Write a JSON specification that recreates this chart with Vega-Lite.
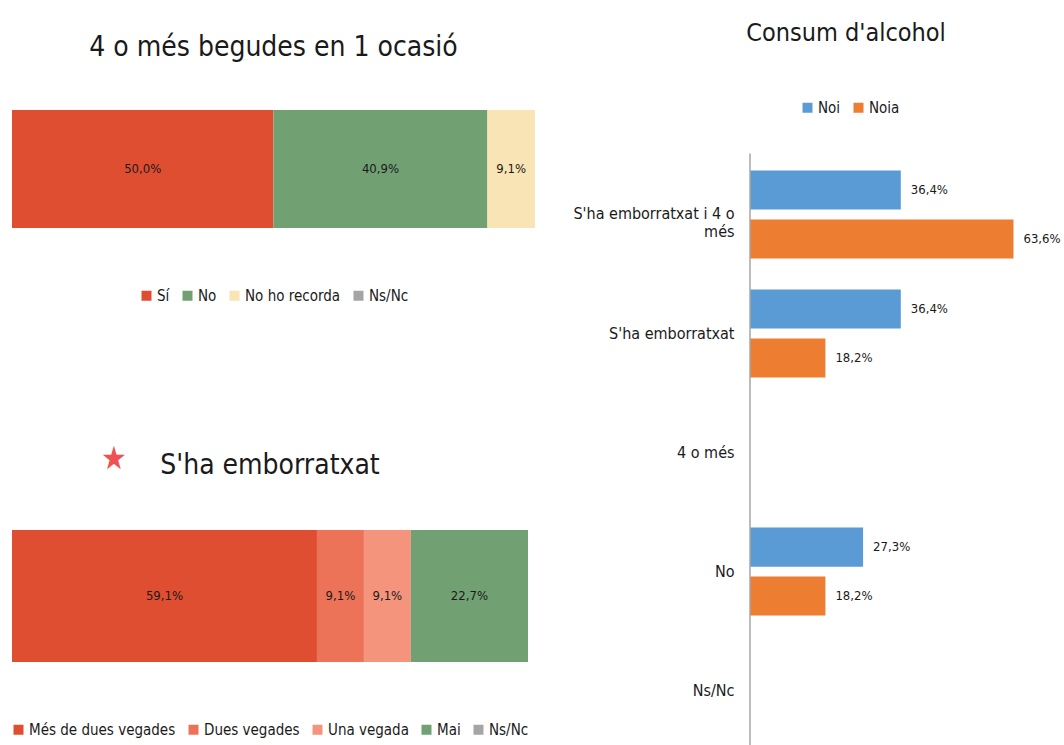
{
  "$schema": "https://vega.github.io/schema/vega-lite/v6.json",
  "padding": {"left": 11, "top": 21, "right": 0, "bottom": 0},
  "background": "white",
  "config": {
    "font": "DejaVu Sans Condensed, Liberation Sans, sans-serif",
    "view": {"stroke": null},
    "locale": {"number": {"decimal": ",", "thousands": ".", "grouping": [3], "currency": ["", " €"]}},
    "title": {"fontSize": 28, "fontWeight": "normal", "color": "#1a1a1a", "anchor": "middle"},
    "legend": {"symbolType": "square", "symbolSize": 100, "labelFontSize": 15, "labelColor": "#1a1a1a", "columnPadding": 10, "labelOffset": 3, "symbolStrokeWidth": 0,
      "layout": {"bottom": {"anchor": "middle"}, "top": {"anchor": "middle"}}}
  },
  "datasets": {
    "beg": [
      {"q": "4 o més", "resp": "Sí", "pct": 0.5},
      {"q": "4 o més", "resp": "No", "pct": 0.409},
      {"q": "4 o més", "resp": "No ho recorda", "pct": 0.091}
    ],
    "emb": [
      {"q": "S'ha emborratxat", "resp": "Més de dues vegades", "pct": 0.591},
      {"q": "S'ha emborratxat", "resp": "Dues vegades", "pct": 0.091},
      {"q": "S'ha emborratxat", "resp": "Una vegada", "pct": 0.091},
      {"q": "S'ha emborratxat", "resp": "Mai", "pct": 0.227}
    ],
    "cons": [
      {"cat": "S'ha emborratxat i 4 o més", "sexe": "Noi", "v": 0.364},
      {"cat": "S'ha emborratxat i 4 o més", "sexe": "Noia", "v": 0.636},
      {"cat": "S'ha emborratxat", "sexe": "Noi", "v": 0.364},
      {"cat": "S'ha emborratxat", "sexe": "Noia", "v": 0.182},
      {"cat": "No", "sexe": "Noi", "v": 0.273},
      {"cat": "No", "sexe": "Noia", "v": 0.182}
    ]
  },
  "hconcat": [
    {
      "spacing": 139,
      "vconcat": [
        {
          "title": {"text": "4 o més begudes en 1 ocasió", "offset": 48},
          "width": 523,
          "height": 118,
          "data": {"name": "beg"},
          "transform": [
            {"stack": "pct", "groupby": ["q"], "as": ["s0", "s1"]},
            {"calculate": "(datum.s0 + datum.s1) / 2", "as": "mid"}
          ],
          "encoding": {
            "y": {"field": "q", "type": "nominal", "axis": null, "scale": {"paddingInner": 0, "paddingOuter": 0}}
          },
          "layer": [
            {
              "mark": {"type": "bar"},
              "encoding": {
                "x": {"field": "s0", "type": "quantitative", "axis": null, "scale": {"domain": [0, 1]}},
                "x2": {"field": "s1"},
                "color": {
                  "field": "resp", "type": "nominal", "title": null,
                  "scale": {"domain": ["Sí", "No", "No ho recorda", "Ns/Nc"], "range": ["#E04E31", "#71A073", "#F8E4B4", "#A5A5A5"]},
                  "legend": {"orient": "bottom", "direction": "horizontal", "offset": 60}
                }
              }
            },
            {
              "mark": {"type": "text", "fontSize": 13, "color": "#1a1a1a"},
              "encoding": {
                "x": {"field": "mid", "type": "quantitative"},
                "text": {"field": "pct", "type": "quantitative", "format": ".1%"}
              }
            }
          ]
        },
        {
          "title": {"text": "★", "color": "#F0504F", "fontSize": 32, "anchor": "start", "dx": 90, "dy": 28},
          "vconcat": [
            {
              "title": {"text": "S'ha emborratxat", "offset": 50},
              "width": 516,
              "height": 132,
              "data": {"name": "emb"},
              "transform": [
                {"stack": "pct", "groupby": ["q"], "as": ["s0", "s1"]},
                {"calculate": "(datum.s0 + datum.s1) / 2", "as": "mid"}
              ],
              "encoding": {
                "y": {"field": "q", "type": "nominal", "axis": null, "scale": {"paddingInner": 0, "paddingOuter": 0}}
              },
              "layer": [
                {
                  "mark": {"type": "bar"},
                  "encoding": {
                    "x": {"field": "s0", "type": "quantitative", "axis": null, "scale": {"domain": [0, 1]}},
                    "x2": {"field": "s1"},
                    "color": {
                      "field": "resp", "type": "nominal", "title": null,
                      "scale": {"domain": ["Més de dues vegades", "Dues vegades", "Una vegada", "Mai", "Ns/Nc"], "range": ["#E04E31", "#EC7358", "#F4947C", "#71A073", "#A5A5A5"]},
                      "legend": {"orient": "bottom", "direction": "horizontal", "offset": 60}
                    }
                  }
                },
                {
                  "mark": {"type": "text", "fontSize": 13, "color": "#1a1a1a"},
                  "encoding": {
                    "x": {"field": "mid", "type": "quantitative"},
                    "text": {"field": "pct", "type": "quantitative", "format": ".1%"}
                  }
                }
              ]
            }
          ]
        }
      ],
      "resolve": {"scale": {"color": "independent"}, "legend": {"color": "independent"}}
    },
    {
      "title": {"text": "Consum d'alcohol", "fontSize": 25, "offset": 54, "dx": -49},
      "width": 290,
      "height": 637,
      "encoding": {
        "y": {
          "field": "cat", "type": "nominal",
          "scale": {"domain": ["S'ha emborratxat i 4 o més", "S'ha emborratxat", "4 o més", "No", "Ns/Nc"], "paddingInner": 0.26, "paddingOuter": 0.306, "align": 0.83},
          "axis": {
            "title": null, "domain": false, "ticks": false, "grid": false,
            "labelFontSize": 16, "labelPadding": 16, "labelColor": "#1a1a1a", "labelLimit": 300,
            "labelExpr": "datum.value == \"S'ha emborratxat i 4 o més\" ? [\"S'ha emborratxat i 4 o\", \"més\"] : datum.value"
          }
        }
      },
      "layer": [
        {
          "data": {"name": "cons"},
          "mark": {"type": "bar"},
          "encoding": {
            "x": {"field": "v", "type": "quantitative", "axis": null, "scale": {"domain": [0, 0.7]}},
            "yOffset": {"field": "sexe", "type": "nominal", "scale": {"domain": ["Noi", "Noia"], "paddingInner": 0.2}},
            "color": {
              "field": "sexe", "type": "nominal", "title": null,
              "scale": {"domain": ["Noi", "Noia"], "range": ["#5B9BD5", "#ED7D31"]},
              "legend": {"orient": "none", "direction": "horizontal", "legendX": 50, "legendY": -10}
            }
          }
        },
        {
          "data": {"name": "cons"},
          "mark": {"type": "text", "align": "left", "dx": 10, "fontSize": 13, "color": "#1a1a1a"},
          "encoding": {
            "x": {"field": "v", "type": "quantitative"},
            "yOffset": {"field": "sexe", "type": "nominal"},
            "text": {"field": "v", "type": "quantitative", "format": ".1%"}
          }
        },
        {
          "data": {"values": [{"linia": "eix"}]},
          "mark": {"type": "rule", "color": "#A6A6A6", "strokeWidth": 1.5},
          "encoding": {
            "x": {"datum": 0, "type": "quantitative"},
            "y": {"datum": "S'ha emborratxat i 4 o més", "type": "nominal", "bandPosition": -0.193},
            "y2": {"value": "height"}
          }
        }
      ]
    }
  ],
  "spacing": 37,
  "resolve": {"scale": {"color": "independent"}, "legend": {"color": "independent"}}
}
